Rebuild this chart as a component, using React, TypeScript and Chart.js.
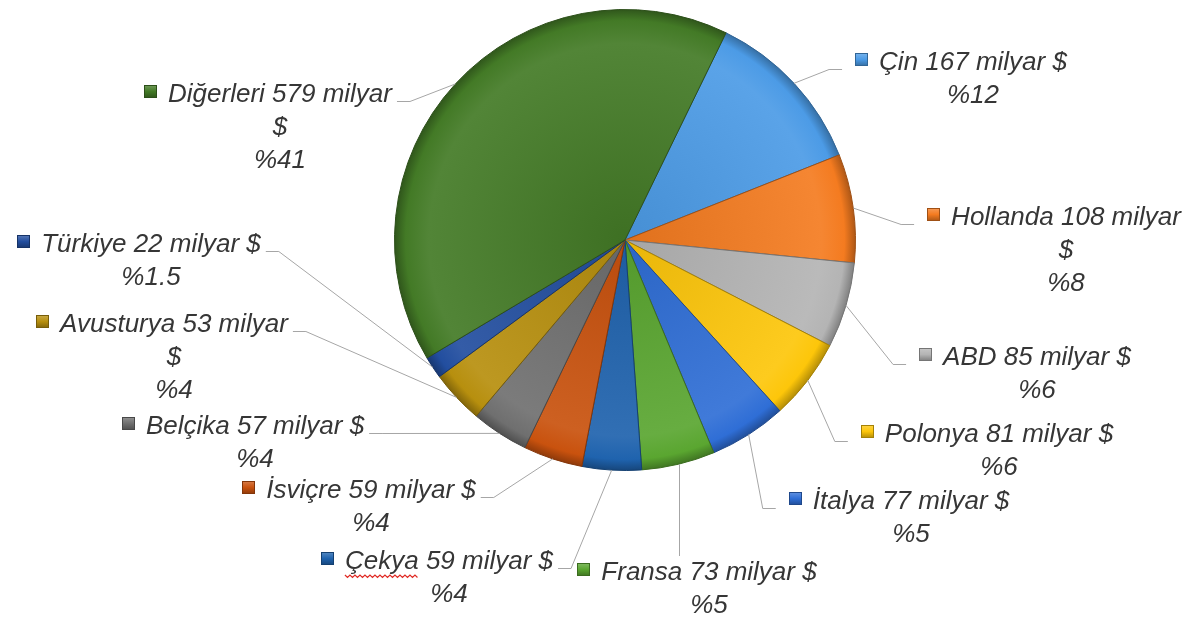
import React, { useEffect, useRef } from "react";
import { Chart, registerables } from "chart.js";

Chart.register(...registerables);

// ---- data ----
const countries = ["Çin", "Hollanda", "ABD", "Polonya", "İtalya", "Fransa", "Çekya", "İsviçre", "Belçika", "Avusturya", "Türkiye", "Diğerleri"];
const valuesBillionUSD = [167, 108, 85, 81, 77, 73, 59, 59, 57, 53, 22, 579];
const shareLabels = ["%12", "%8", "%6", "%6", "%5", "%5", "%4", "%4", "%4", "%4", "%1.5", "%41"];
const sliceColors = ["#4C9BE6", "#F47B20", "#B4B4B4", "#FDC60A", "#2F6ED6", "#5AA630", "#1F63AE", "#C9520E", "#6F6F6F", "#B78F0E", "#224E9F", "#437A26"];

// ---- label layout (manual Excel-style label placement) ----
type Side = "L" | "R" | "T";
const labelLayout: { cx: number; y: number; side: Side; wrap?: boolean; squiggle?: boolean }[] = [
  { cx: 973, y: 63, side: "R" },
  { cx: 1066, y: 218, side: "R", wrap: true },
  { cx: 1037, y: 358, side: "R" },
  { cx: 999, y: 435, side: "R" },
  { cx: 911, y: 502, side: "R" },
  { cx: 709, y: 573, side: "T" },
  { cx: 449, y: 562, side: "L", squiggle: true },
  { cx: 371, y: 491, side: "L" },
  { cx: 255, y: 427, side: "L" },
  { cx: 174, y: 325, side: "L", wrap: true },
  { cx: 151, y: 245, side: "L" },
  { cx: 280, y: 95, side: "L", wrap: true },
];

const FONT = 'italic 26px "Liberation Sans", Arial, sans-serif';
const LINE_H = 33;
const MARKER = 13;
const MARKER_GAP = 11;
const TEXT_COLOR = "#363636";
const LEADER_COLOR = "#a6a6a6";

function hexToRgb(h: string) {
  const n = parseInt(h.slice(1), 16);
  return [(n >> 16) & 255, (n >> 8) & 255, n & 255];
}
function mix(h: string, target: number, t: number) {
  const [r, g, b] = hexToRgb(h);
  const f = (v: number) => Math.round(v + (target - v) * t);
  return `rgb(${f(r)},${f(g)},${f(b)})`;
}

const labelPlugin = {
  id: "pieLabels",
  afterDatasetsDraw(chart: any) {
    const ctx: CanvasRenderingContext2D = chart.ctx;
    const meta = chart.getDatasetMeta(0);
    ctx.save();
    ctx.font = FONT;
    ctx.textBaseline = "middle";
    ctx.textAlign = "center";
    meta.data.forEach((arc: any, i: number) => {
      const p = arc.getProps(["x", "y", "startAngle", "endAngle", "outerRadius"], true);
      const mid = (p.startAngle + p.endAngle) / 2;
      const px = p.x + Math.cos(mid) * p.outerRadius;
      const py = p.y + Math.sin(mid) * p.outerRadius;
      const L = labelLayout[i];
      const head = `${countries[i]} ${valuesBillionUSD[i]} milyar`;
      const lines = L.wrap ? [head, "$", shareLabels[i]] : [head + " $", shareLabels[i]];
      const w1 = ctx.measureText(lines[0]).width;
      const left = L.cx - w1 / 2;
      const right = L.cx + w1 / 2;
      const markerLeft = left - MARKER_GAP - MARKER;
      const ly = Math.round(L.y + 6) + 0.5;

      // leader line
      ctx.strokeStyle = LEADER_COLOR;
      ctx.lineWidth = 1;
      ctx.beginPath();
      if (L.side === "R") {
        const e = markerLeft - 13;
        ctx.moveTo(px, py);
        ctx.lineTo(e - 13, ly);
        ctx.lineTo(e, ly);
      } else if (L.side === "L") {
        const s = right + 5;
        ctx.moveTo(px, py);
        ctx.lineTo(s + 13, ly);
        ctx.lineTo(s, ly);
      } else {
        const vx = Math.round(px) + 0.5;
        ctx.moveTo(vx, py);
        ctx.lineTo(vx, L.y - 17);
      }
      ctx.stroke();

      // legend key marker
      const base = sliceColors[i];
      const my = Math.round(L.y - 4 - MARKER / 2);
      const mx = Math.round(markerLeft);
      const g = ctx.createLinearGradient(0, my, 0, my + MARKER);
      g.addColorStop(0, mix(base, 255, 0.25));
      g.addColorStop(0.5, base);
      g.addColorStop(1, mix(base, 0, 0.3));
      ctx.fillStyle = g;
      ctx.fillRect(mx, my, MARKER, MARKER);
      ctx.strokeStyle = mix(base, 0, 0.35);
      ctx.strokeRect(mx + 0.5, my + 0.5, MARKER - 1, MARKER - 1);

      // text
      ctx.fillStyle = TEXT_COLOR;
      lines.forEach((t, k) => ctx.fillText(t, L.cx, L.y + k * LINE_H));

      if (L.squiggle) {
        const ww = ctx.measureText(countries[i]).width;
        ctx.strokeStyle = "#e02a24";
        ctx.lineWidth = 1.2;
        ctx.beginPath();
        const yy = L.y + 13;
        for (let x = left, k = 0; x <= left + ww; x += 2.5, k++) {
          const yv = yy + (k % 2 === 0 ? 0 : 2.5);
          if (k === 0) ctx.moveTo(x, yv);
          else ctx.lineTo(x, yv);
        }
        ctx.stroke();
      }
    });
    ctx.restore();
  },
};

export default function App() {
  const ref = useRef<HTMLCanvasElement | null>(null);
  useEffect(() => {
    if (!ref.current) return;
    const chart = new Chart(ref.current, {
      type: "pie",
      data: {
        labels: countries,
        datasets: [
          {
            data: valuesBillionUSD,
            backgroundColor: (c: any) => {
              const base = sliceColors[c.dataIndex] || "#888";
              const area = c.chart.chartArea;
              if (!area) return base;
              const cx = (area.left + area.right) / 2;
              const cy = (area.top + area.bottom) / 2;
              const r = Math.min(area.right - area.left, area.bottom - area.top) / 2;
              const g = c.chart.ctx.createRadialGradient(cx, cy, 0, cx, cy, r);
              g.addColorStop(0, mix(base, 0, 0.08));
              g.addColorStop(0.85, mix(base, 255, 0.08));
              g.addColorStop(0.95, base);
              g.addColorStop(1, mix(base, 0, 0.3));
              return g;
            },
            borderColor: sliceColors.map((c) => mix(c, 0, 0.35)),
            borderWidth: 1,
          },
        ],
      },
      options: {
        responsive: false,
        maintainAspectRatio: false,
        devicePixelRatio: 1,
        animation: false,
        rotation: 26,
        layout: { padding: { left: 394, right: 341, top: 9, bottom: 152 } },
        plugins: {
          legend: { display: false },
          tooltip: { enabled: false },
        },
      },
      plugins: [labelPlugin],
    });
    return () => chart.destroy();
  }, []);
  return (
    <div style={{ position: "absolute", left: 0, top: 0, width: 1197, height: 623, background: "#fff" }}>
      <canvas ref={ref} width={1197} height={623} />
    </div>
  );
}
